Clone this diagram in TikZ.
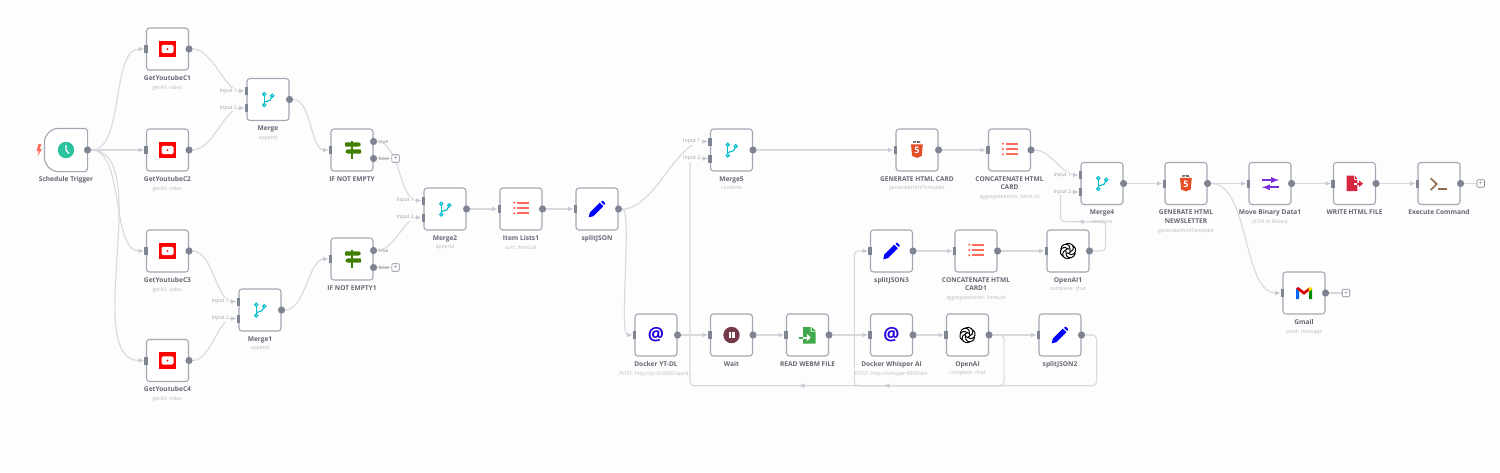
\documentclass[tikz,border=0pt]{standalone}
\usepackage{fontspec}
\setmainfont{Open Sans}
\usetikzlibrary{positioning,calc,backgrounds,arrows.meta}
\definecolor{canvas}{HTML}{FDFDFE}
\definecolor{wire}{HTML}{D8D9DF}
\definecolor{wiretip}{HTML}{C9CAD3}
\definecolor{frame}{HTML}{A4A7B3}
\definecolor{portgray}{HTML}{7F8492}
\definecolor{titlegray}{HTML}{656873}
\definecolor{subgray}{HTML}{B9BBC3}
\definecolor{ytred}{HTML}{FF0000}
\definecolor{clockgreen}{HTML}{2BC29E}
\definecolor{mergeteal}{HTML}{00BBCC}
\definecolor{ifgreen}{HTML}{408000}
\definecolor{listred}{HTML}{FF6D5A}
\definecolor{penblue}{HTML}{0000FF}
\definecolor{atblue}{HTML}{2200DD}
\definecolor{waitred}{HTML}{763B49}
\definecolor{filegreen}{HTML}{42A84C}
\definecolor{htmlorange}{HTML}{E44D26}
\definecolor{movepurple}{HTML}{7A2FD6}
\definecolor{writered}{HTML}{D7263F}
\definecolor{execbrown}{HTML}{8F6B48}
\begin{document}
\begin{tikzpicture}[x=1pt,y=-1pt,
    wfbox/.style={draw=frame,fill=white,line width=1.1pt,rounded corners=3pt,minimum size=42pt,inner sep=0pt},
    wftitle/.style={align=center,inner sep=0pt,text=titlegray,font=\fontsize{6.6}{8.7}\selectfont\bfseries},
    inport/.style={fill=portgray,minimum width=3.2pt,minimum height=8pt,inner sep=0pt},
    outport/.style={circle,fill=portgray,minimum size=7.2pt,inner sep=0pt},
    portlabel/.style={fill=canvas,inner sep=0.6pt,text=subgray!85!black,font=\fontsize{5.2}{6}\selectfont},
    branchlabel/.style={inner sep=0.6pt,text=subgray!70!black,font=\fontsize{4.8}{5}\selectfont},
    plusbox/.style={draw=portgray,fill=white,line width=0.6pt,rounded corners=1pt,minimum size=7.5pt,inner sep=0pt,text=portgray,font=\fontsize{7}{7}\selectfont},
    link/.style={wire,line width=1.1pt,-{Latex[length=5.5pt,width=4.8pt,color=wiretip]}},
    stub/.style={wire,line width=1.1pt}]
    \useasboundingbox (0,0) rectangle (1500,472);
    \begin{scope}[on background layer]
        \fill[canvas] (0,0) rectangle (1500,472);
    \end{scope}

    \foreach \id/\px/\py/\ttl/\subt in {
        GetYoutubeC1/167.5/49/GetYoutubeC1/{getAll: video},
        GetYoutubeC2/167.5/150/GetYoutubeC2/{getAll: video},
        GetYoutubeC3/167.5/251/GetYoutubeC3/{getAll: video},
        GetYoutubeC4/167.5/360.5/GetYoutubeC4/{getAll: video},
        Merge/268/99.5/Merge/append,
        IfEmpty/352/150/{IF NOT EMPTY}/{},
        IfEmpty1/352/259/{IF NOT EMPTY1}/{},
        Merge1/260/310/Merge1/append,
        Merge2/445/209/Merge2/append,
        ItemLists1/521/209/{Item Lists1}/{sort: itemList},
        SplitJSON/597/209/splitJSON/{},
        Merge5/731.5/150/Merge5/combine,
        DockerYT/656/335/{Docker YT-DL}/{POST: http://yt-dl:8080/api/d...},
        Wait/731.5/335/Wait/{},
        ReadWebm/807.5/335/{READ WEBM FILE}/{},
        DockerWhisper/891.5/335/{Docker Whisper AI}/{POST: http://whisper:9000/asr},
        OpenAI/967.5/335/OpenAI/{complete: chat},
        SplitJSON2/1060/335/splitJSON2/{},
        GenCard/917/150/{GENERATE HTML CARD}/generateHtmlTemplate,
        ConcatCard/1009.5/150/{CONCATENATE HTML\\CARD}/{aggregateItems: itemList},
        Merge4/1102/183.5/Merge4/combine,
        SplitJSON3/891.5/251/splitJSON3/{},
        ConcatCard1/976/251/{CONCATENATE HTML\\CARD1}/{aggregateItems: itemList},
        OpenAI1/1068/251/OpenAI1/{complete: chat},
        GenNews/1186/183.5/{GENERATE HTML\\NEWSLETTER}/generateHtmlTemplate,
        MoveBinary/1270/183.5/{Move Binary Data1}/{JSON to Binary},
        WriteHtml/1354.5/183.5/{WRITE HTML FILE}/{},
        ExecCmd/1439/183.5/{Execute Command}/{},
        Gmail/1304/293/Gmail/{send: message}}{
        \node[wfbox] (\id) at (\px,\py) {};
        \node[wftitle,below=4.6pt of \id] (\id-t) {\ttl\\{\fontsize{5.2}{8.7}\selectfont\mdseries\color{subgray}\subt}};
    }

    \node[wfbox,draw=none,fill=none] (Schedule) at (66,150) {};
    \draw[draw=frame,fill=white,line width=1.1pt,rounded corners=3pt] (Schedule.north east) -- (Schedule.south east)
        [rounded corners=14pt] -- (Schedule.south west) -- (Schedule.north west) [rounded corners=3pt] -- cycle;
    \node[wftitle,below=4.6pt of Schedule] (Schedule-t) {Schedule Trigger};

    \foreach \id in {GetYoutubeC1,GetYoutubeC2,GetYoutubeC3,GetYoutubeC4,IfEmpty,IfEmpty1,ItemLists1,SplitJSON,DockerYT,Wait,ReadWebm,DockerWhisper,OpenAI,SplitJSON2,GenCard,ConcatCard,SplitJSON3,ConcatCard1,OpenAI1,GenNews,MoveBinary,WriteHtml,ExecCmd,Gmail}
        \node[inport] (\id-i) at (\id.west) {};
    \foreach \id in {Schedule,GetYoutubeC1,GetYoutubeC2,GetYoutubeC3,GetYoutubeC4,Merge,Merge1,Merge2,ItemLists1,SplitJSON,Merge5,DockerYT,Wait,ReadWebm,DockerWhisper,OpenAI,SplitJSON2,GenCard,ConcatCard,Merge4,SplitJSON3,ConcatCard1,OpenAI1,GenNews,MoveBinary,WriteHtml,ExecCmd,Gmail}
        \node[outport] (\id-o) at (\id.east) {};
    \foreach \id in {Merge,Merge1,Merge2,Merge5,Merge4}{
        \node[inport] (\id-i1) at ($(\id.west)+(0,-8.5)$) {};
        \node[inport] (\id-i2) at ($(\id.west)+(0,8.5)$) {};
        \node[portlabel,left=7pt of \id-i1] (\id-l1) {Input 1};
        \node[portlabel,left=7pt of \id-i2] (\id-l2) {Input 2};
    }
    \foreach \id in {IfEmpty,IfEmpty1}{
        \node[outport] (\id-a) at ($(\id.east)+(0,-8.5)$) {};
        \node[outport] (\id-b) at ($(\id.east)+(0,8.5)$) {};
        \node[branchlabel,right=0.8pt of \id-a] (\id-l1) {true};
        \node[branchlabel,right=0.4pt of \id-b] (\id-l2) {false};
        \node[plusbox] (\id-p) at ($(\id.east)+(22,8.5)$) {+};
    }
    \node[plusbox] (ExecCmd-p) at (1480.7,183.5) {+};
    \node[plusbox] (Gmail-p) at (1346,293) {+};
    \coordinate (backA) at (690,385.7);
    \coordinate (backB) at (854.3,385.7);
    \coordinate (backC) at (1060.5,221.7);
    \coordinate (tipA0) at (806,385.7);
    \coordinate (tipA1) at (799,385.7);
    \coordinate (tipB0) at (891,385.7);
    \coordinate (tipB1) at (884,385.7);
    \coordinate (tipC0) at (1085,221.7);
    \coordinate (tipC1) at (1078,221.7);

    \begin{scope}[on background layer]
        \foreach \a/\b in {Schedule/GetYoutubeC2,Merge2/ItemLists1,ItemLists1/SplitJSON,Merge5/GenCard,GenCard/ConcatCard,
            DockerYT/Wait,Wait/ReadWebm,ReadWebm/DockerWhisper,DockerWhisper/OpenAI,OpenAI/SplitJSON2,
            SplitJSON3/ConcatCard1,ConcatCard1/OpenAI1,Merge4/GenNews,GenNews/MoveBinary,MoveBinary/WriteHtml,WriteHtml/ExecCmd}
            \draw[link] (\a-o) -- (\b-i);
        \foreach \a/\b in {Schedule-o/GetYoutubeC1-i,Schedule-o/GetYoutubeC3-i,Schedule-o/GetYoutubeC4-i,GetYoutubeC1-o/Merge-i1,GetYoutubeC2-o/Merge-i2,
            Merge-o/IfEmpty-i,GetYoutubeC3-o/Merge1-i1,GetYoutubeC4-o/Merge1-i2,Merge1-o/IfEmpty1-i,IfEmpty-a/Merge2-i1,IfEmpty1-a/Merge2-i2,
            SplitJSON-o/Merge5-i1,ConcatCard-o/Merge4-i1,GenNews-o/Gmail-i}
            \draw[link] (\a) to[out=0,in=180,looseness=0.75] (\b);
        \draw[link] (SplitJSON-o) .. controls +(14,0) and +(-16,0) .. (DockerYT-i);
        \draw[stub] (IfEmpty-b) -- (IfEmpty-p);
        \draw[stub] (IfEmpty1-b) -- (IfEmpty1-p);
        \draw[stub] (ExecCmd-o) -- (ExecCmd-p);
        \draw[stub] (Gmail-o) -- (Gmail-p);
        \draw[link,rounded corners=4pt] (SplitJSON2-o) -- ++(15,0) |- (backA) |- (Merge5-i2);
        \draw[link,rounded corners=4pt] (OpenAI-o) -- ++(15,0) |- (backB) |- (SplitJSON3-i);
        \draw[link,rounded corners=4pt] (OpenAI1-o) -- ++(16,0) |- (backC) |- (Merge4-i2);
        \draw[link] (tipA0) -- (tipA1);
        \draw[link] (tipB0) -- (tipB1);
        \draw[link] (tipC0) -- (tipC1);
    \end{scope}

    \fill[listred] (38.5,144) -- (36.5,151) -- (38.8,151) -- (37.8,156) -- (42,148.8) -- (39.6,148.8) -- (41.5,144) -- cycle;
    \fill[clockgreen] (Schedule) circle (8.2pt);
    \draw[white,line width=1.3pt] ($(Schedule)+(0,-5)$) -- (Schedule.center) -- ($(Schedule)+(3,3.5)$);

    \foreach \id in {GetYoutubeC1,GetYoutubeC2,GetYoutubeC3,GetYoutubeC4}{
        \begin{scope}[shift={(\id)}]
            \fill[ytred] (-8.3,-8.3) rectangle (8.3,8.3);
            \fill[white,rounded corners=1.5pt] (-6,-4.2) rectangle (6,4.2);
            \fill[ytred] (0,0) circle (1pt);
        \end{scope}
    }
    \foreach \id in {Merge,Merge1,Merge2,Merge5,Merge4}{
        \begin{scope}[shift={(\id)},mergeteal,line width=1.1pt]
            \draw (-3.7,-5.2) -- (-3.7,5.5);
            \draw (-3.7,2.6) -- (2,0.8) -- (4.3,-3.8);
            \filldraw[fill=white] (-3.7,-5.2) circle (1.6pt);
            \filldraw[fill=white] (4.3,-3.8) circle (1.6pt);
            \filldraw[fill=white] (-3.7,5.5) circle (1.6pt);
        \end{scope}
    }
    \foreach \id in {IfEmpty,IfEmpty1}{
        \begin{scope}[shift={(\id)}]
            \fill[ifgreen] (-0.8,-9) rectangle (0.8,9);
            \fill[ifgreen,rounded corners=0.8pt] (-7,-7.7) -- (7,-7.7) -- (9.3,-5.5) -- (7,-3.3) -- (-7,-3.3) -- cycle;
            \fill[ifgreen,rounded corners=0.8pt] (-4.8,-0.7) -- (9,-0.7) -- (9,3.7) -- (-4.8,3.7) -- (-7,1.5) -- cycle;
        \end{scope}
    }
    \foreach \id in {ItemLists1,ConcatCard,ConcatCard1}{
        \begin{scope}[shift={(\id)},listred]
            \foreach \row in {-6.3,-1,4.3}{
                \fill (-6.7,\row) circle (1.2pt);
                \fill (-3.7,\row-0.9) rectangle (8,\row+0.9);
            }
        \end{scope}
    }
    \foreach \id in {SplitJSON,SplitJSON2,SplitJSON3}{
        \begin{scope}[shift={(\id)},penblue]
            \fill (-8.3,8.3) -- (-7.2,3.6) -- (2.8,-6.4) -- (6.4,-2.8) -- (-3.6,7.2) -- cycle;
            \fill[rounded corners=0.8pt] (3.8,-7.2) -- (5.4,-8.8) -- (8.8,-5.4) -- (7.2,-3.8) -- cycle;
        \end{scope}
    }
    \foreach \id in {DockerYT,DockerWhisper}
        \node[text=atblue,inner sep=0pt,font=\fontsize{18}{18}\selectfont\bfseries] (\id-at) at (\id) {@};

    \begin{scope}[shift={(Wait)}]
        \fill[waitred] (0,0) circle (8.2pt);
        \fill[white] (-3,-3.3) rectangle (-0.8,3.3);
        \fill[white] (0.8,-3.3) rectangle (3,3.3);
    \end{scope}
    \begin{scope}[shift={(ReadWebm)}]
        \fill[filegreen] (-4.5,-8) -- (3.2,-8) -- (3.2,-3.4) -- (8.2,-3.4) -- (8.2,8.7) -- (-4.5,8.7) -- cycle;
        \fill[filegreen] (4,-8) -- (8.2,-4.2) -- (4,-4.2) -- cycle;
        \fill[filegreen] (-8.5,1.5) rectangle (-4.5,3.7);
        \fill[white] (-4.5,1.5) rectangle (-0.5,3.7);
        \fill[white] (-0.5,-1) -- (3.2,2.6) -- (-0.5,6.2) -- cycle;
    \end{scope}
    \foreach \id in {OpenAI,OpenAI1}{
        \begin{scope}[shift={(\id)}]
            \foreach \ang in {0,60,...,300}
                \draw[black,line width=1pt,rotate=\ang] (-2,-7.2) .. controls (2.5,-9.2) and (7.2,-5) .. (4.8,-1) -- (0.8,2);
        \end{scope}
    }
    \foreach \id in {GenCard,GenNews}{
        \begin{scope}[shift={(\id)}]
            \fill[htmlorange] (-6,-5.7) -- (5.8,-5.7) -- (4.7,6) -- (0,7.8) -- (-4.9,6) -- cycle;
            \node[inner sep=0pt,font=\fontsize{2.8}{3}\selectfont\bfseries] (\id-h) at (0,-7.3) {HTML};
            \node[inner sep=0pt,text=white,font=\fontsize{9}{9}\selectfont\bfseries] (\id-f) at (0,0.8) {5};
        \end{scope}
    }
    \begin{scope}[shift={(MoveBinary)},movepurple,line width=1.7pt]
        \draw[-latex] (-8,-3.5) -- (9,-3.5);
        \draw[-latex] (9,3.8) -- (-8,3.8);
    \end{scope}
    \begin{scope}[shift={(WriteHtml)}]
        \fill[writered] (-7.8,-7.8) -- (-0.4,-7.8) -- (-0.4,-3.6) -- (2.8,-3.6) -- (2.8,7.5) -- (-7.8,7.5) -- cycle;
        \fill[writered] (0.4,-7.8) -- (2.8,-4.6) -- (0.4,-4.6) -- cycle;
        \fill[white] (-1,-0.8) rectangle (2.8,1.2);
        \fill[writered] (2.8,-0.8) rectangle (5,1.2);
        \fill[writered] (4.6,-3) -- (8.6,0.2) -- (4.6,3.4) -- cycle;
    \end{scope}
    \begin{scope}[shift={(ExecCmd)},execbrown,line width=1.7pt]
        \draw (-8.3,-5.2) -- (-2.3,0.5) -- (-8.3,6.5);
        \draw (-0.7,5.8) -- (7.7,5.8);
    \end{scope}
    \begin{scope}[shift={(Gmail)}]
        \fill[blue!60!cyan] (-8,-4.5) -- (-8,6) -- (-5,6) -- (-5,-2) -- cycle;
        \fill[green!55!black] (8,-4.5) -- (8,6) -- (5,6) -- (5,-2) -- cycle;
        \fill[red!85!black] (-8,-4.5) -- (-5.8,-6) -- (0,-1.6) -- (5.8,-6) -- (5,-2) -- (0,1.8) -- (-5,-2) -- cycle;
        \fill[yellow!85!orange] (4.6,-5.2) -- (6,-6) -- (8,-4.8) -- (8,-3.6) -- (5,-1.4) -- cycle;
    \end{scope}
\end{tikzpicture}
\end{document}
